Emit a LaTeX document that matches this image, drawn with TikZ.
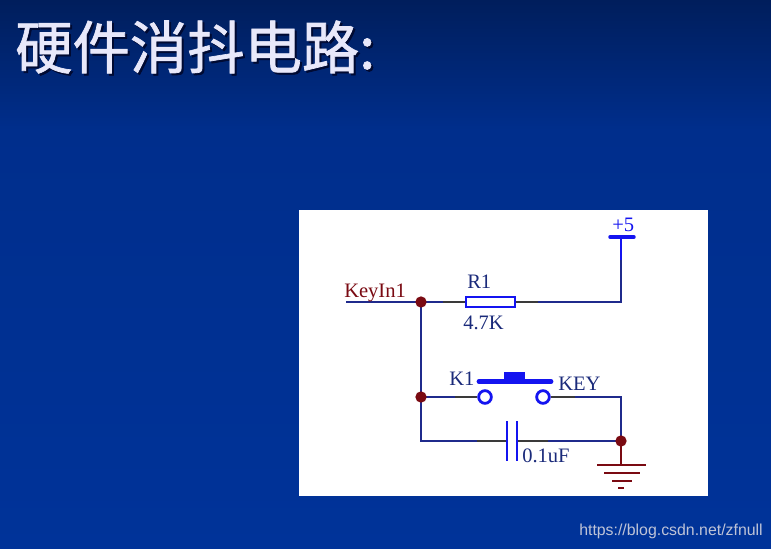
\documentclass[tikz,border=0pt]{standalone}
\usepackage{fontspec}
\setmainfont{Liberation Serif}
\newfontfamily\cjk[FakeBold=1.2]{Noto Sans CJK SC}
\newfontfamily\wm{Liberation Sans}
\usetikzlibrary{backgrounds}
\pgfdeclarelayer{wirelayer}
\pgfsetlayers{background,wirelayer,main}
\definecolor{wire}{HTML}{1F2A8C}
\definecolor{pin}{HTML}{3A3A3A}
\definecolor{part}{HTML}{1414F0}
\definecolor{maroon}{HTML}{7A0A12}
\definecolor{label}{HTML}{1A2A7A}
\tikzset{
  wireline/.style={draw=wire,line width=2.1pt,line join=miter},
  pinline/.style={draw=pin,line width=2.1pt},
  partline/.style={draw=part,line width=2.1pt},
  dotnode/.style={circle,fill=maroon,inner sep=0pt,minimum size=8.5pt},
  contact/.style={circle,draw=part,fill=white,line width=2.1pt,inner sep=0pt,minimum size=9.5pt},
  lab/.style={font=\fontsize{15.4}{15.4}\selectfont,text=label,inner sep=0pt},
}
\begin{document}
\begin{tikzpicture}[x=0.75pt,y=-0.75pt]
\useasboundingbox (0,0) rectangle (771,549);
\begin{pgfonlayer}{background}
\shade[shading=axis,top color={rgb,255:red,0;green,30;blue,92},bottom color={rgb,255:red,0;green,46;blue,140}] (0,0) rectangle (771,130);
\shade[shading=axis,top color={rgb,255:red,0;green,46;blue,140},bottom color={rgb,255:red,0;green,51;blue,153}] (0,130) rectangle (771,549);
\fill[white] (299,210) rectangle (708,496);
\end{pgfonlayer}
% title
\node[anchor=west,inner sep=0pt,text={rgb,255:red,0;green,10;blue,50},font=\cjk\fontsize{43}{43}\selectfont] (titleshadow) at (17,49) {硬件消抖电路:};
\node[anchor=west,inner sep=0pt,text={rgb,255:red,232;green,232;blue,250},font=\cjk\fontsize{43}{43}\selectfont] (title) at (15,47) {硬件消抖电路:};
% coordinates
\coordinate (kin) at (346,302);
\coordinate (rp1) at (443,302);
\coordinate (rl) at (466,302);
\coordinate (rr) at (515,302);
\coordinate (rp2) at (538,302);
\coordinate (corner) at (621,302);
\coordinate (vp) at (621,260);
\coordinate (vcc) at (621,237);
\coordinate (kp1) at (455,397);
\coordinate (kp2) at (575,397);
\coordinate (kcorner) at (621,397);
\coordinate (bl) at (421,441);
\coordinate (cp1) at (477,441);
\coordinate (cl) at (507,441);
\coordinate (cr) at (517,441);
\coordinate (cp2) at (548,441);
\coordinate (gnd) at (621,465);
\node[dotnode] (j1) at (421,302) {};
\node[dotnode] (j2) at (421,397) {};
\node[dotnode] (j3) at (621,441) {};
\node[contact] (c1) at (485,397) {};
\node[contact] (c2) at (543,397) {};
\begin{pgfonlayer}{wirelayer}
\draw[wireline] (kin) -- (j1.center) -- (rp1);
\draw[wireline] (rp2) -- (corner) -- (vp);
\draw[wireline] (j1.center) -- (bl) -- (cp1);
\draw[wireline] (j2.center) -- (kp1);
\draw[wireline] (kp2) -- (kcorner) -- (j3.center);
\draw[wireline] (cp2) -- (j3.center);
\draw[pinline] (rp1) -- (rl);
\draw[pinline] (rr) -- (rp2);
\draw[pinline] (kp1) -- (c1);
\draw[pinline] (c2) -- (kp2);
\draw[pinline] (cp1) -- (cl);
\draw[pinline] (cr) -- (cp2);
\draw[partline] (vp) -- (vcc);
\draw[maroon,line width=2.1pt] (j3.center) -- (gnd);
\end{pgfonlayer}
% parts
\draw[part,line width=2.6pt,line cap=round] (610,237) -- (634,237);
\draw[partline,fill=white] (466,297) rectangle (515,307);
\draw[part,line width=2.2pt] (cl |- 0,421) -- (cl |- 0,461);
\draw[part,line width=2.2pt] (cr |- 0,421) -- (cr |- 0,461);
\draw[part,line width=3.6pt,line cap=round] (479,381.5) -- (551,381.5);
\fill[part] (504,372) rectangle (525,382);
% ground
\draw[maroon,line width=2.2pt] (597,465) -- (646,465);
\draw[maroon,line width=2.2pt] (604,473) -- (640,473);
\draw[maroon,line width=2.2pt] (612,481) -- (632,481);
\draw[maroon,line width=2.2pt] (618,488) -- (624,488);
% labels
\node[lab,text=maroon,anchor=base west] (lk) at (344,297) {KeyIn1};
\node[lab,anchor=base west] (lr) at (467,288) {R1};
\node[lab,anchor=base west] (lv) at (463,329) {4.7K};
\node[lab,anchor=base west] (lk1) at (449,385) {K1};
\node[lab,anchor=base west] (lkey) at (558,390) {KEY};
\node[lab,anchor=base west] (lc) at (522,462) {0.1uF};
\node[lab,text=part,anchor=base west] (lp) at (612,232) {+5};
% watermark
\node[anchor=base west,inner sep=0pt,text={rgb,255:red,190;green,195;blue,215},font=\wm\fontsize{11.9}{12}\selectfont] (mark) at (579,535) {https://blog.csdn.net/zfnull};
\end{tikzpicture}
\end{document}
